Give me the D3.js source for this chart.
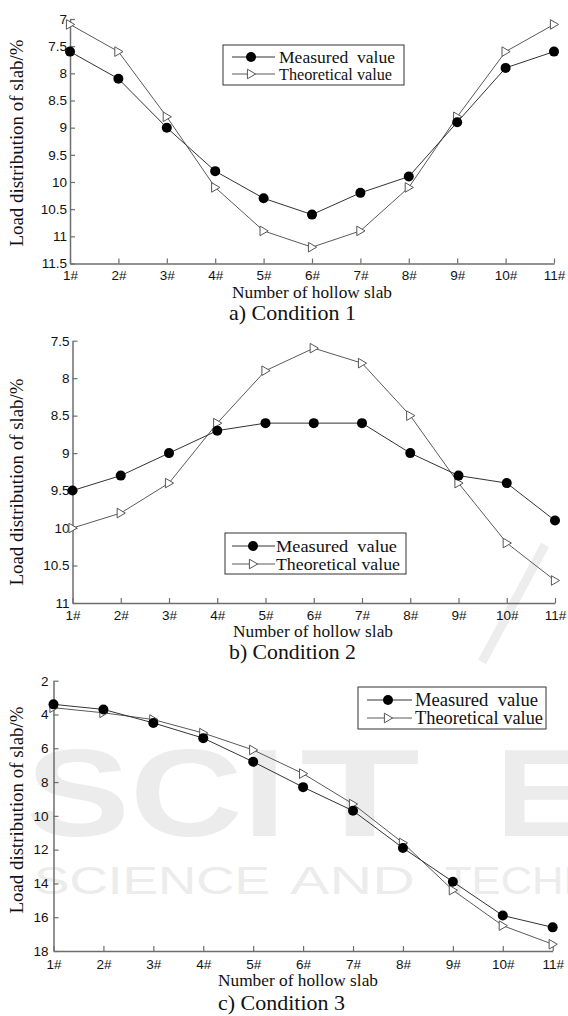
<!DOCTYPE html>
<html><head><meta charset="utf-8">
<script src="https://cdn.jsdelivr.net/npm/d3@7"></script>
<style>
body{margin:0;background:#fff}svg{display:block}
.serif{font-family:"Liberation Serif","Times New Roman",Tinos,"DejaVu Serif",serif}
.sans{font-family:"Liberation Sans",Arial,Helvetica,sans-serif}
</style>
</head><body>
<svg id="chart" width="568" height="1016"></svg>
<script>
// ---- data ----
const slabs = ["1#","2#","3#","4#","5#","6#","7#","8#","9#","10#","11#"];
const measuredA    = [7.6, 8.1, 9.0, 9.8, 10.3, 10.6, 10.2, 9.9, 8.9, 7.9, 7.6];
const theoreticalA = [7.1, 7.6, 8.8, 10.1, 10.9, 11.2, 10.9, 10.1, 8.8, 7.6, 7.1];
const measuredB    = [9.5, 9.3, 9.0, 8.7, 8.6, 8.6, 8.6, 9.0, 9.3, 9.4, 9.9];
const theoreticalB = [10.0, 9.8, 9.4, 8.6, 7.9, 7.6, 7.8, 8.5, 9.4, 10.2, 10.7];
const measuredC    = [3.4, 3.7, 4.5, 5.4, 6.8, 8.3, 9.7, 11.9, 13.9, 15.9, 16.6];
const theoreticalC = [3.6, 3.9, 4.3, 5.1, 6.1, 7.5, 9.3, 11.6, 14.4, 16.5, 17.6];
const yTicksA = [7, 7.5, 8, 8.5, 9, 9.5, 10, 10.5, 11, 11.5];
const yTicksB = [7.5, 8, 8.5, 9, 9.5, 10, 10.5, 11];
const yTicksC = [2, 4, 6, 8, 10, 12, 14, 16, 18];
const seriesNames = ["Measured  value", "Theoretical value"];
const captions = ["a) Condition 1", "b) Condition 2", "c) Condition 3"];
const xTitle = "Number of hollow slab";
const yTitle = "Load distribution of slab/%";

// ---- layout ----
const panels = [
  {m: measuredA, t: theoreticalA, ticks: yTicksA, cap: captions[0],
   x0: 70, x1: 554, y0: 19, y1: 263.5, tpad: 3, xpad: 7,
   yTitleY: 143, xTitleY: 298, xTitleX: 232, capY: 320, capX: 229,
   leg: {x: 223, y: 45, w: 181, h: 40, lx0: 232, lx1: 275, mx: 251, tx: 279, r1: 57, r2: 74, fs: 17, len: [116, 113]}},
  {m: measuredB, t: theoreticalB, ticks: yTicksB, cap: captions[1],
   x0: 72.5, x1: 555, y0: 340.7, y1: 603, tpad: 3, xpad: 7,
   yTitleY: 482, xTitleY: 637, xTitleX: 233, capY: 659, capX: 229,
   leg: {x: 225, y: 533, w: 181, h: 41, lx0: 232, lx1: 275, mx: 253, tx: 276, r1: 546, r2: 564, fs: 17, len: [121, 124]}},
  {m: measuredC, t: theoreticalC, ticks: yTicksC, cap: captions[2],
   x0: 53.5, x1: 552.7, y0: 680.7, y1: 951, tpad: 5, xpad: 8,
   yTitleY: 810, xTitleY: 986, xTitleX: 218, capY: 1010, capX: 218,
   leg: {x: 358, y: 687, w: 188, h: 42, lx0: 367, lx1: 412, mx: 388, tx: 415, r1: 700, r2: 718, fs: 18, len: [123, 128]}}
];

const svg = d3.select("#chart");

// faint watermark (background)
const wm = svg.append("g").attr("class", "sans").style("fill", "#ececec").style("font-weight", "bold");
[["SCI", 26, 260], ["T", 300, 120], ["E", 496, 90]].forEach(([s, x, w]) =>
  wm.append("text").attr("x", x).attr("y", 836).style("font-size", "124px")
    .attr("textLength", w).attr("lengthAdjust", "spacingAndGlyphs").text(s));
[["SCIENCE", 34, 236], ["AND", 290, 125], ["TECHN", 445, 150]].forEach(([s, x, w]) =>
  wm.append("text").attr("x", x).attr("y", 894).style("font-size", "39px").style("font-weight", "normal")
    .attr("textLength", w).attr("lengthAdjust", "spacingAndGlyphs").text(s));
svg.append("line").attr("x1", 545).attr("y1", 545).attr("x2", 482).attr("y2", 662)
  .attr("stroke", "#ededed").attr("stroke-width", 9);

const tri = d3.symbol().type({draw(ctx) { ctx.moveTo(-3.6, -4.8); ctx.lineTo(4.6, 0); ctx.lineTo(-3.6, 4.8); ctx.closePath(); }});

panels.forEach(p => {
  const g = svg.append("g");
  const x = d3.scalePoint().domain(slabs).range([p.x0, p.x1]).padding(0);
  const y = d3.scaleLinear().domain([p.ticks[0], p.ticks[p.ticks.length - 1]]).range([p.y0, p.y1]);

  const ya = g.append("g").attr("transform", `translate(${p.x0},0)`)
    .call(d3.axisLeft(y).tickValues(p.ticks).tickFormat(d => String(d))
      .tickSizeInner(-5).tickSizeOuter(0).tickPadding(p.tpad));
  const xa = g.append("g").attr("transform", `translate(0,${p.y1})`)
    .call(d3.axisBottom(x).tickSizeInner(-5).tickSizeOuter(0).tickPadding(p.xpad));
  [ya, xa].forEach(a => {
    a.attr("font-family", null).attr("font-size", null);
    a.select(".domain").attr("stroke", "#6e6e6e").attr("stroke-width", 1.5);
    a.selectAll(".tick line").attr("stroke", "#6e6e6e").attr("stroke-width", 1.2);
    a.selectAll(".tick text").attr("class", "sans").style("font-size", "13.5px").attr("fill", "#111");
  });

  const line = d3.line().x((d, i) => x(slabs[i])).y(d => y(d));
  g.append("path").datum(p.t).attr("d", line).attr("fill", "none").attr("stroke", "#5a5a5a").attr("stroke-width", 1);
  g.append("path").datum(p.m).attr("d", line).attr("fill", "none").attr("stroke", "#333").attr("stroke-width", 1);
  g.selectAll(".tm").data(p.t).join("path").attr("class", "tm")
    .attr("d", tri()).attr("transform", (d, i) => `translate(${x(slabs[i])},${y(d)})`)
    .attr("fill", "#fff").attr("stroke", "#555").attr("stroke-width", 1);
  g.selectAll(".mm").data(p.m).join("circle").attr("class", "mm")
    .attr("cx", (d, i) => x(slabs[i])).attr("cy", d => y(d)).attr("r", 5).attr("fill", "#000");

  // titles
  g.append("text").attr("class", "serif").attr("transform", `translate(${23},${p.yTitleY}) rotate(-90)`)
    .attr("text-anchor", "middle").style("font-size", "18px").attr("fill", "#111")
    .attr("textLength", 207).attr("lengthAdjust", "spacingAndGlyphs").text(yTitle);
  g.append("text").attr("class", "serif").attr("x", p.xTitleX).attr("y", p.xTitleY)
    .style("font-size", "17px").attr("fill", "#111")
    .attr("textLength", 160).attr("lengthAdjust", "spacingAndGlyphs").text(xTitle);
  g.append("text").attr("class", "serif").attr("x", p.capX).attr("y", p.capY)
    .style("font-size", "21px").attr("fill", "#111")
    .attr("textLength", 127).attr("lengthAdjust", "spacingAndGlyphs").text(p.cap);

  // legend
  const L = p.leg;
  const lg = g.append("g");
  lg.append("rect").attr("x", L.x).attr("y", L.y).attr("width", L.w).attr("height", L.h)
    .attr("fill", "#fff").attr("stroke", "#333").attr("stroke-width", 1);
  [L.r1, L.r2].forEach((ry, k) => {
    lg.append("line").attr("x1", L.lx0).attr("x2", L.lx1).attr("y1", ry).attr("y2", ry)
      .attr("stroke", k === 0 ? "#333" : "#5a5a5a").attr("stroke-width", 1);
    if (k === 0) lg.append("circle").attr("cx", L.mx).attr("cy", ry).attr("r", 5).attr("fill", "#000");
    else lg.append("path").attr("d", tri()).attr("transform", `translate(${L.mx},${ry})`)
      .attr("fill", "#fff").attr("stroke", "#555");
    lg.append("text").attr("class", "serif").attr("x", L.tx).attr("y", ry + 5.5)
      .style("font-size", L.fs + "px").attr("fill", "#111")
      .attr("textLength", L.len[k]).attr("lengthAdjust", "spacingAndGlyphs")
      .style("white-space", "pre").text(seriesNames[k]);
  });
});
</script>
</body></html>
